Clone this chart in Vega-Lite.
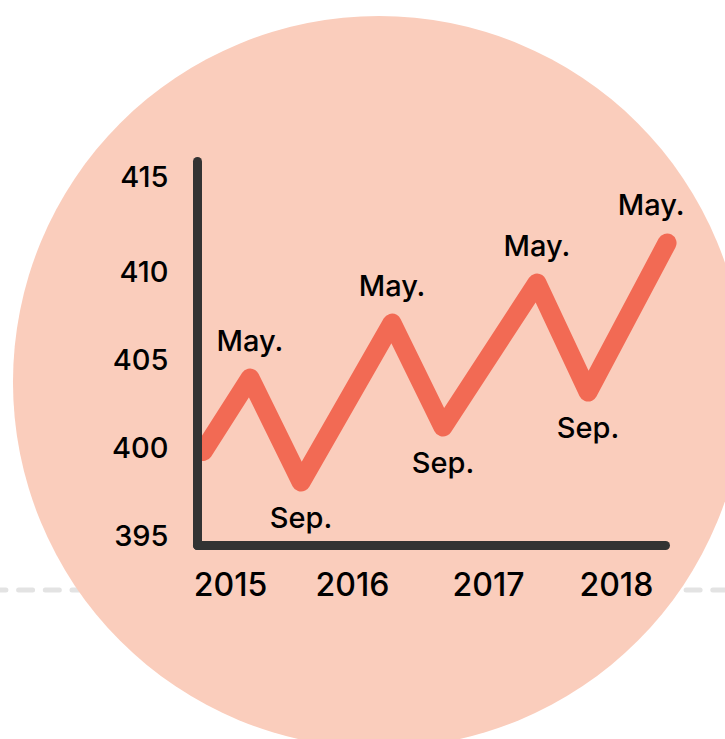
{
  "$schema": "https://vega.github.io/schema/vega-lite/v6.json",
  "width": 468,
  "height": 384,
  "autosize": {"type": "none"},
  "padding": {"left": 197, "top": 161, "right": 60, "bottom": 194},
  "background": "white",
  "config": {"view": {"stroke": null}, "font": "Inter", "text": {"font": "Inter"}},
  "datasets": {
    "co2": [
      {"t": 2015.014, "ppm": 399.8, "label": ""},
      {"t": 2015.355, "ppm": 403.98, "label": "May."},
      {"t": 2015.726, "ppm": 398.07, "label": "Sep."},
      {"t": 2016.387, "ppm": 407.10, "label": "May."},
      {"t": 2016.757, "ppm": 401.19, "label": "Sep."},
      {"t": 2017.44, "ppm": 409.38, "label": "May."},
      {"t": 2017.811, "ppm": 403.18, "label": "Sep."},
      {"t": 2018.385, "ppm": 411.65, "label": "May."}
    ]
  },
  "layer": [
    {
      "data": {"values": [{"t": 2013.48, "t_end": 2018.85, "ppm": 391.93}]},
      "mark": {"type": "rule", "color": "#e3e3e3", "strokeWidth": 5, "strokeDash": [14, 12.7], "strokeCap": "round"},
      "encoding": {
        "x": {"field": "t", "type": "quantitative"},
        "x2": {"field": "t_end"},
        "y": {"field": "ppm", "type": "quantitative"}
      }
    },
    {
      "data": {"values": [{"t": 2016.292, "ppm": 403.75}]},
      "mark": {"type": "circle", "size": 535824, "color": "#facdbc", "opacity": 1},
      "encoding": {
        "x": {
          "field": "t", "type": "quantitative",
          "scale": {"domain": [2014.97, 2018.37], "nice": false, "zero": false},
          "axis": {
            "title": null, "values": [2015.21, 2016.096, 2017.084, 2018.013],
            "labelExpr": "floor(datum.value)", "grid": false, "ticks": false,
            "domainColor": "#333333", "domainWidth": 9, "domainCap": "round",
            "labelFont": "Inter", "labelFontSize": 32, "labelFontWeight": 500, "labelColor": "#000000",
            "labelPadding": 25, "labelFlush": false, "labelOverlap": false, "zindex": 1
          }
        },
        "y": {
          "field": "ppm", "type": "quantitative",
          "scale": {"domain": [394.49, 416.31], "nice": false, "zero": false},
          "axis": {
            "title": null, "values": [395, 400, 405, 410, 415], "grid": false, "ticks": false,
            "domainColor": "#333333", "domainWidth": 9, "domainCap": "round",
            "labelFont": "Inter", "labelFontSize": 29, "labelFontWeight": 500, "labelColor": "#000000",
            "labelOffset": {"condition": {"test": "datum.value == 415", "value": -7}, "value": 0},
            "labelPadding": 29, "labelFlush": false, "labelOverlap": false, "zindex": 1
          }
        }
      }
    },
    {
      "data": {"name": "co2"},
      "mark": {"type": "line", "color": "#f26a54", "strokeWidth": 19, "strokeCap": "round", "strokeJoin": "round"},
      "encoding": {
        "x": {"field": "t", "type": "quantitative"},
        "y": {"field": "ppm", "type": "quantitative"}
      }
    },
    {
      "data": {"name": "co2"},
      "transform": [{"filter": "datum.label == 'May.' && datum.t < 2018"}],
      "mark": {"type": "text", "font": "Inter", "fontSize": 29, "fontWeight": 500, "color": "#000000", "baseline": "alphabetic", "align": "center", "dy": -27},
      "encoding": {
        "x": {"field": "t", "type": "quantitative"},
        "y": {"field": "ppm", "type": "quantitative"},
        "text": {"field": "label"}
      }
    },
    {
      "data": {"name": "co2"},
      "transform": [{"filter": "datum.label == 'May.' && datum.t > 2018"}],
      "mark": {"type": "text", "font": "Inter", "fontSize": 29, "fontWeight": 500, "color": "#000000", "baseline": "alphabetic", "align": "center", "dy": -28, "dx": -16},
      "encoding": {
        "x": {"field": "t", "type": "quantitative"},
        "y": {"field": "ppm", "type": "quantitative"},
        "text": {"field": "label"}
      }
    },
    {
      "data": {"name": "co2"},
      "transform": [{"filter": "datum.label == 'Sep.'"}],
      "mark": {"type": "text", "font": "Inter", "fontSize": 29, "fontWeight": 500, "color": "#000000", "baseline": "alphabetic", "align": "center", "dy": 46},
      "encoding": {
        "x": {"field": "t", "type": "quantitative"},
        "y": {"field": "ppm", "type": "quantitative"},
        "text": {"field": "label"}
      }
    }
  ]
}
